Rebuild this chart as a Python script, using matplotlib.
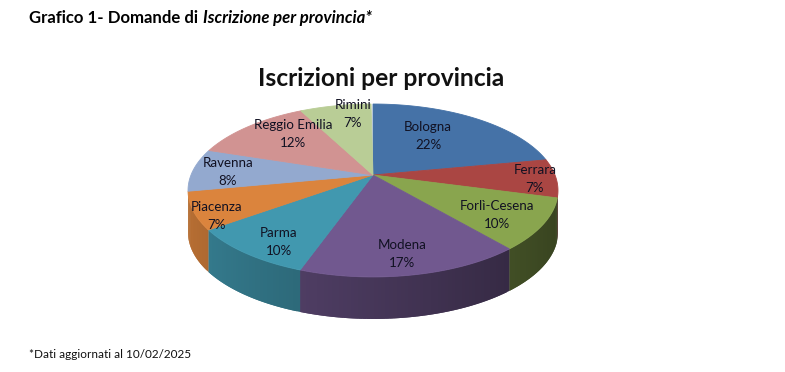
import numpy as np
import matplotlib.pyplot as plt
from matplotlib.collections import PolyCollection
from matplotlib.colors import to_rgb

provinces = ["Bologna", "Ferrara", "Forlì-Cesena", "Modena", "Parma",
             "Piacenza", "Ravenna", "Reggio Emilia", "Rimini"]
shares = [22.0, 7.2, 9.6, 16.6, 9.6, 7.0, 8.0, 12.4, 7.4]
slice_colors = ["#4572A7", "#AA4643", "#89A54E", "#71588F", "#4198AF",
                "#DB843D", "#93A9CF", "#D19392", "#B9CD96"]
label_pos = [(428, 136), (535, 179), (497, 215), (402, 254), (279, 242),
             (217, 216), (228, 172), (293, 134), (353, 114)]

plt.rcParams["font.family"] = ["Lato", "DejaVu Sans"]
W, H = 785, 372
fig = plt.figure(figsize=(W / 100, H / 100), dpi=100)
ax = fig.add_axes([0, 0, 1, 1])
ax.set_xlim(0, W)
ax.set_ylim(H, 0)
ax.axis("off")

# perspective tilt of the pie disc
cx, cy = 373, 175
A, B, k = 182, 83.7, 0.179
depth = 42


def project(theta):
    u, v = np.sin(theta), np.cos(theta)
    w = 1 + k * v
    return cx + A * u / w, cy - B * v / w


edges = np.radians(np.cumsum([0] + shares) * 3.6)

# side wall first, shaded from left to right
# each strip runs past its neighbour so no seams show between them
step = np.radians(1)
quads, quad_colors = [], []
for i in range(len(shares)):
    starts = np.arange(edges[i], edges[i + 1], step)
    for t0 in starts:
        if np.cos(t0 + step / 2) > -k:
            continue
        t = np.linspace(t0, min(t0 + 2 * step, edges[i + 1]), 5)
        xs, ys = project(t)
        quads.append(np.c_[np.r_[xs, xs[::-1]], np.r_[ys, ys[::-1] + depth]])
        shade = 0.62 - 0.22 * np.sin(t0 + step / 2)
        quad_colors.append(tuple(c * shade for c in to_rgb(slice_colors[i])))
ax.add_collection(PolyCollection(quads, facecolors=quad_colors,
                                 edgecolors="none", linewidths=0))

# top surface
for i in range(len(shares)):
    t = np.linspace(edges[i], edges[i + 1], 80)
    xs, ys = project(t)
    ax.fill(np.r_[cx, xs], np.r_[cy, ys], facecolor=slice_colors[i],
            edgecolor=slice_colors[i], lw=0.6)

for name, share, (x, y) in zip(provinces, shares, label_pos):
    ax.text(x, y, f"{name}\n{round(share)}%", ha="center", va="center",
            fontsize=9.6, color="#111122", linespacing=1.6)

ax.text(381, 78, "Iscrizioni per provincia", ha="center", va="center",
        fontsize=17.7, fontweight="bold", color="#111111")

head = ax.text(29, 18, "Grafico 1- Domande di ", ha="left", va="center",
               fontsize=12.1, fontweight="bold", color="black")
fig.canvas.draw()
end = head.get_window_extent().x1
ax.text(end + 1, 18, "Iscrizione per provincia*", ha="left", va="center",
        fontsize=12.1, fontweight="bold", style="italic", color="black")

ax.text(29, 354, "*Dati aggiornati al 10/02/2025", ha="left", va="center",
        fontsize=8.5, color="#111111")

fig.savefig("out.png", dpi=100)
